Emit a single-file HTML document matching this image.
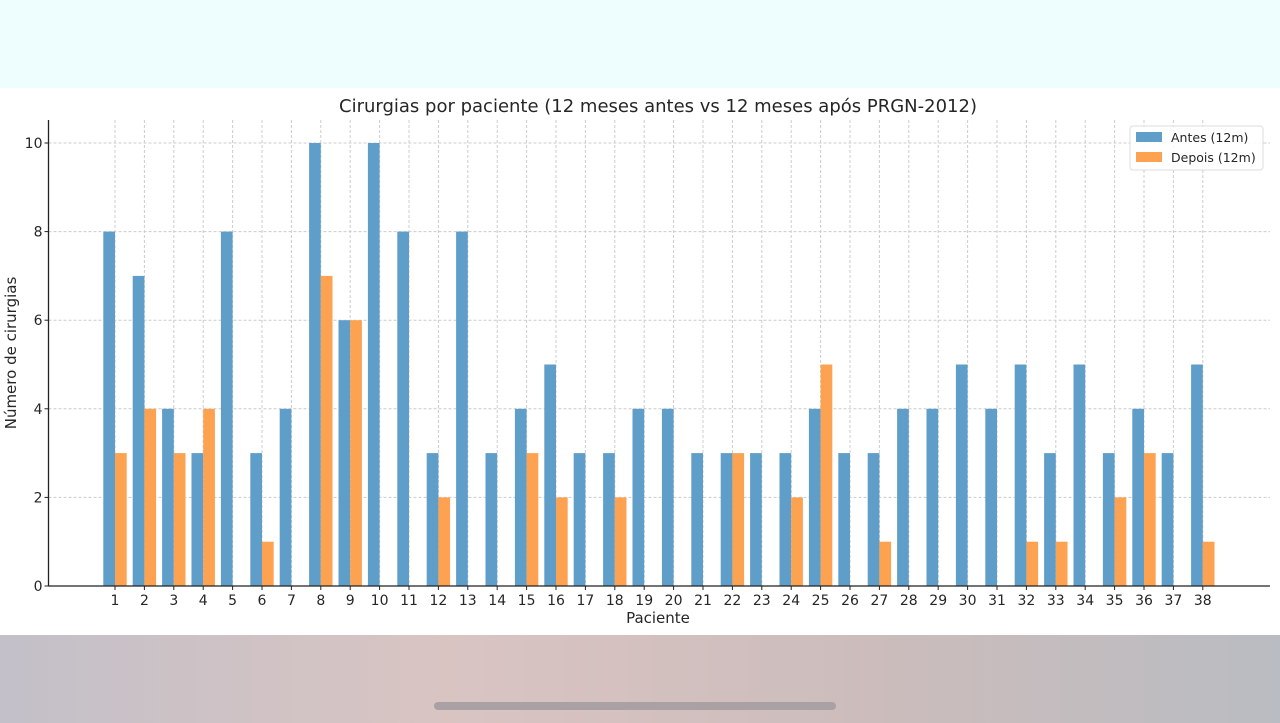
<!DOCTYPE html>
<html><head><meta charset="utf-8"><style>
html,body{margin:0;padding:0;width:1280px;height:723px;overflow:hidden;background:#fff}
svg{display:block}
text{font-family:"DejaVu Sans","Liberation Sans",sans-serif;fill:#262626}
</style></head><body>
<svg id="s" width="1280" height="723" xmlns="http://www.w3.org/2000/svg">
<defs>
<linearGradient id="bg" x1="0" y1="0" x2="1" y2="0">
<stop offset="0" stop-color="#c3c0c9"/><stop offset="0.35" stop-color="#d9c4c2"/><stop offset="0.7" stop-color="#cbbcbc"/><stop offset="1" stop-color="#b9bcc2"/>
</linearGradient>
</defs>
<rect x="0" y="0" width="1280" height="88" fill="#eefdfd"/>
<rect x="0" y="635" width="1280" height="88" fill="url(#bg)"/>
<rect x="434" y="702" width="402" height="8" rx="4" fill="#a9a1a4"/>
<text x="658" y="112" font-size="18" text-anchor="middle">Cirurgias por paciente (12 meses antes vs 12 meses após PRGN-2012)</text>
<g id="g"></g>
<text x="658" y="623" font-size="15" text-anchor="middle">Paciente</text>
<text transform="translate(16,353) rotate(-90)" font-size="15" text-anchor="middle">Número de cirurgias</text>
<rect x="1130" y="126" width="133" height="44" rx="3" fill="#fff" fill-opacity="0.85" stroke="#ddd"/>
<rect x="1136" y="132" width="26" height="10" fill="#5f9ec9"/>
<rect x="1136" y="152" width="26" height="10" fill="#fda250"/>
<text x="1171" y="142" font-size="12.5">Antes (12m)</text>
<text x="1171" y="162" font-size="12.5">Depois (12m)</text>
</svg>
<script>
var A=[8,7,4,3,8,3,4,10,6,10,8,3,8,3,4,5,3,3,4,4,3,3,3,3,4,3,3,4,4,5,4,5,3,5,3,4,3,5];
var D=[3,4,3,4,0,1,0,7,6,0,0,2,0,0,3,2,0,2,0,0,0,3,0,2,5,0,1,0,0,0,0,1,1,0,2,3,0,1];
var h='',y0=586,u=44.3,L=48.5,R=1270,T=120,S=29.4,W=11.7;
for(var k=0;k<=10;k+=2){var y=y0-k*u;h+='<line x1="'+L+'" x2="'+R+'" y1="'+y+'" y2="'+y+'" stroke="#ccc" stroke-dasharray="3,2"/>';
h+='<line x1="'+(L-4)+'" x2="'+L+'" y1="'+y+'" y2="'+y+'" stroke="#222"/><text x="'+(L-6)+'" y="'+(y+5)+'" font-size="14" text-anchor="end">'+k+'</text>';}
for(var i=0;i<38;i++){var x=115+i*S;
h+='<line x1="'+x+'" x2="'+x+'" y1="'+T+'" y2="'+y0+'" stroke="#ccc" stroke-dasharray="3,2"/>';}
for(var i=0;i<38;i++){var x=115+i*S;
if(A[i])h+='<rect x="'+(x-W)+'" y="'+(y0-A[i]*u)+'" width="'+W+'" height="'+A[i]*u+'" fill="#5f9ec9"/>';
if(D[i])h+='<rect x="'+x+'" y="'+(y0-D[i]*u)+'" width="'+W+'" height="'+D[i]*u+'" fill="#fda250"/>';
h+='<line x1="'+x+'" x2="'+x+'" y1="'+y0+'" y2="'+(y0+4)+'" stroke="#222"/><text x="'+x+'" y="'+(y0+19)+'" font-size="14" text-anchor="middle">'+(i+1)+'</text>';}
h+='<line x1="'+L+'" x2="'+L+'" y1="'+T+'" y2="'+(y0+0.5)+'" stroke="#222" stroke-width="1.3"/>';
h+='<line x1="'+L+'" x2="'+R+'" y1="'+y0+'" y2="'+y0+'" stroke="#222" stroke-width="1.3"/>';
document.getElementById('g').innerHTML=h;
</script>
</body></html>
